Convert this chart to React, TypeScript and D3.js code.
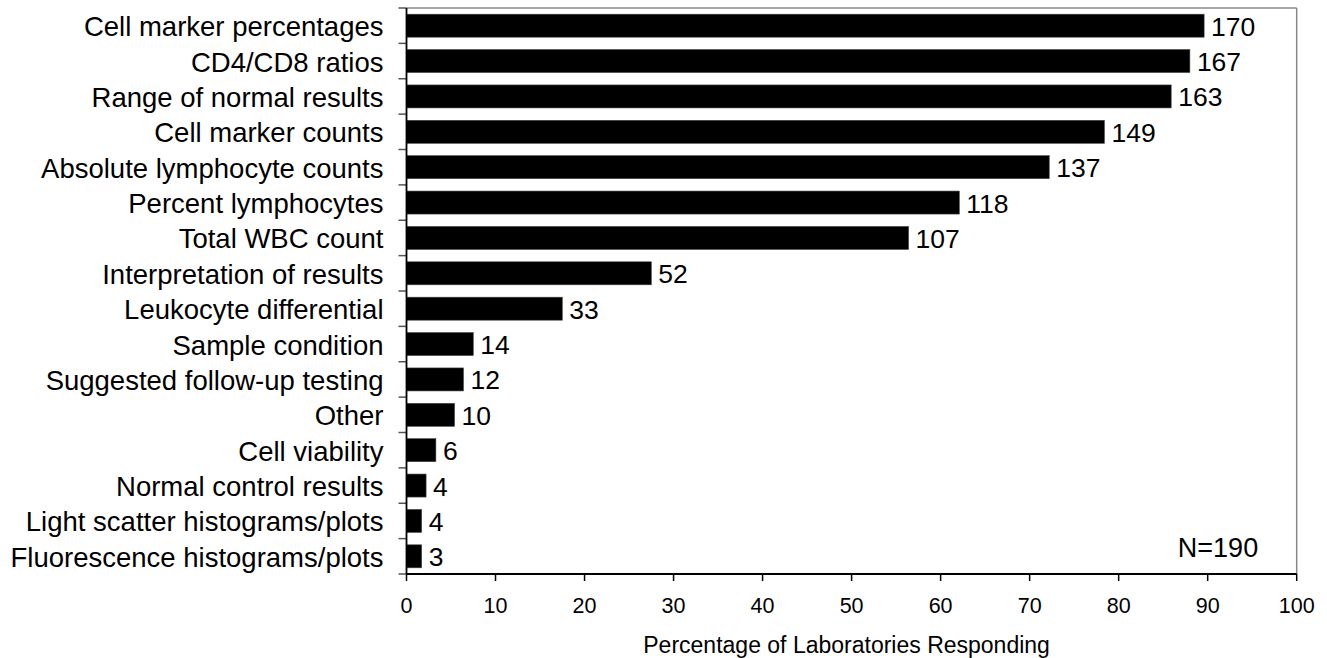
import React from "react";
import * as d3 from "d3";

const categories = [
  "Cell marker percentages",
  "CD4/CD8 ratios",
  "Range of normal results",
  "Cell marker counts",
  "Absolute lymphocyte counts",
  "Percent lymphocytes",
  "Total WBC count",
  "Interpretation of results",
  "Leukocyte differential",
  "Sample condition",
  "Suggested follow-up testing",
  "Other",
  "Cell viability",
  "Normal control results",
  "Light scatter histograms/plots",
  "Fluorescence histograms/plots",
];

const percentages = [89.6, 88.0, 85.9, 78.4, 72.2, 62.1, 56.4, 27.5, 17.5, 7.5, 6.4, 5.4, 3.3, 2.2, 1.7, 1.7];
const counts = [170, 167, 163, 149, 137, 118, 107, 52, 33, 14, 12, 10, 6, 4, 4, 3];
const xTicks = [0, 10, 20, 30, 40, 50, 60, 70, 80, 90, 100];
const xTitle = "Percentage of Laboratories Responding";
const note = "N=190";

const W = 1327;
const H = 658;
const M = { left: 406.5, right: 1296.7, top: 8, bottom: 574 };
const FONT = "'Liberation Sans', Arial, Helvetica, sans-serif";

export default function App() {
  const x = d3.scaleLinear().domain([0, 100]).range([M.left, M.right]);
  const y = d3
    .scaleBand<string>()
    .domain(categories)
    .range([M.top, M.bottom])
    .paddingInner(0.35)
    .paddingOuter(0.175);
  const step = y.step();
  const bandEdges = d3.range(categories.length + 1).map((i) => M.top + i * step);

  return (
    <svg
      width={W}
      height={H}
      style={{ position: "absolute", left: 0, top: 0, display: "block", background: "#fff" }}
      fontFamily={FONT}
    >
      <rect x={0} y={0} width={W} height={H} fill="#fff" />
      {/* frame top and right */}
      <line x1={M.left} x2={M.right} y1={M.top} y2={M.top} stroke="#888" strokeWidth={1.5} />
      <line x1={M.right} x2={M.right} y1={M.top} y2={M.bottom} stroke="#888" strokeWidth={1.5} />

      {/* bars */}
      {categories.map((c, i) => (
        <rect
          key={c}
          x={x(0)}
          y={y(c)}
          width={x(percentages[i]) - x(0)}
          height={y.bandwidth()}
          fill="#000"
          stroke="#444"
          strokeWidth={0.6}
        />
      ))}

      {/* value labels */}
      {categories.map((c, i) => (
        <text
          key={c + "v"}
          x={x(percentages[i]) + 7}
          y={(y(c) as number) + y.bandwidth() / 2 + 1}
          dominantBaseline="central"
          fontSize={26.5}
          fill="#000"
        >
          {counts[i]}
        </text>
      ))}

      {/* category labels */}
      {categories.map((c) => (
        <text
          key={c + "l"}
          x={M.left - 23}
          y={(y(c) as number) + y.bandwidth() / 2 + 1}
          dominantBaseline="central"
          textAnchor="end"
          fontSize={27.5}
          fill="#000"
        >
          {c}
        </text>
      ))}

      {/* left axis ticks */}
      {bandEdges.map((v, i) => (
        <line key={"lt" + i} x1={M.left - 8} x2={M.left} y1={v} y2={v} stroke="#555" strokeWidth={1.5} />
      ))}
      <line x1={M.left} x2={M.left} y1={M.top} y2={M.bottom} stroke="#000" strokeWidth={1.8} />

      {/* bottom axis */}
      <line x1={M.left} x2={M.right} y1={M.bottom} y2={M.bottom} stroke="#000" strokeWidth={1.8} />
      {xTicks.map((t) => (
        <g key={"xt" + t}>
          <line x1={x(t)} x2={x(t)} y1={M.bottom} y2={M.bottom + 7} stroke="#000" strokeWidth={1.5} />
          <text x={x(t)} y={606} textAnchor="middle" dominantBaseline="central" fontSize={21.5} fill="#000">
            {t}
          </text>
        </g>
      ))}
      <text x={(M.left + M.right) / 2 - 5} y={645} textAnchor="middle" dominantBaseline="central" fontSize={23} fill="#000">
        {xTitle}
      </text>

      <text x={1218} y={548} textAnchor="middle" dominantBaseline="central" fontSize={27} fill="#000">
        {note}
      </text>
    </svg>
  );
}
